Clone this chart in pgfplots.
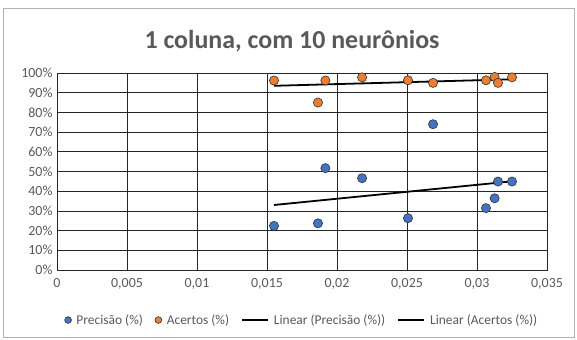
\documentclass[border=0pt]{standalone}
\usepackage{pgfplots}
\pgfplotsset{compat=1.18}
\usepackage{fontspec}
\setmainfont{Carlito}
\definecolor{txtgray}{HTML}{595959}
\definecolor{xlblue}{HTML}{4472C4}
\definecolor{xlorange}{HTML}{ED7D31}
\pgfplotsset{linelegend/.style={legend image code/.code={\draw[##1] (0bp,0bp) -- (26bp,0bp);}}}
\begin{document}
\begin{tikzpicture}
\useasboundingbox (-57bp,-70bp) rectangle (520bp,270bp);
\draw[gray!60, line width=0.8bp] (-54bp,-67bp) rectangle (517bp,262bp);
\begin{axis}[
  at={(0,0)}, anchor=south west,
  scale only axis, width=490bp, height=197bp,
  xmin=0, xmax=0.035, ymin=0, ymax=100,
  scaled x ticks=false,
  xtick={0,0.005,0.01,0.015,0.02,0.025,0.03,0.035},
  xticklabels={0,{0,005},{0,01},{0,015},{0,02},{0,025},{0,03},{0,035}},
  ytick={0,10,...,100},
  yticklabel={\pgfmathprintnumber{\tick}\%},
  /pgf/number format/assume math mode=true,
  major tick length=0pt,
  grid=major,
  major grid style={black!85, line width=0.7bp},
  axis line style={black!85, line width=0.7bp},
  tick label style={font=\fontsize{14}{16}\selectfont, text=txtgray},
  xticklabel style={yshift=-5bp},
  yticklabel style={xshift=-1bp},
  legend style={at={(0.5,-0.254)}, anchor=center, draw=none, fill=none,
    legend columns=4, font=\fontsize{13.5}{15}\selectfont, text=txtgray,
    /tikz/every even column/.append style={column sep=10bp},
    /tikz/every odd column/.append style={column sep=3bp}},
  legend cell align=left,
]
\addplot[only marks, mark=*, mark size=4.6bp, mark options={fill=xlblue, draw=black!80, line width=0.6bp},
  legend image post style={mark size=3.4bp}]
coordinates {(0.0155,22.4)(0.01864,23.7)(0.01917,51.7)(0.02179,46.6)(0.02507,26.3)(0.02686,74)(0.03064,31.4)(0.03126,36.4)(0.0315,44.9)(0.0325,44.9)};
\addlegendentry{Precisão (\%)}
\addplot[only marks, mark=*, mark size=4.6bp, mark options={fill=xlorange, draw=black!80, line width=0.6bp},
  legend image post style={mark size=3.4bp}]
coordinates {(0.0155,96.2)(0.01917,96.2)(0.01864,85)(0.02179,97.8)(0.02507,96.3)(0.02686,95)(0.03064,96.3)(0.03126,98)(0.0315,95)(0.0325,97.8)};
\addlegendentry{Acertos (\%)}
\addplot[black, line width=1.8bp, no marks, linelegend] coordinates {(0.0155,33)(0.0325,45)};
\addlegendentry{Linear (Precisão (\%))}
\addplot[black, line width=1.8bp, no marks, linelegend] coordinates {(0.0155,93.5)(0.0325,96.8)};
\addlegendentry{Linear (Acertos (\%))}
\end{axis}
\node[text=txtgray, font=\fontsize{26}{30}\selectfont\bfseries] at (235bp,229bp) {1 coluna, com 10 neurônios};
\end{tikzpicture}
\end{document}
